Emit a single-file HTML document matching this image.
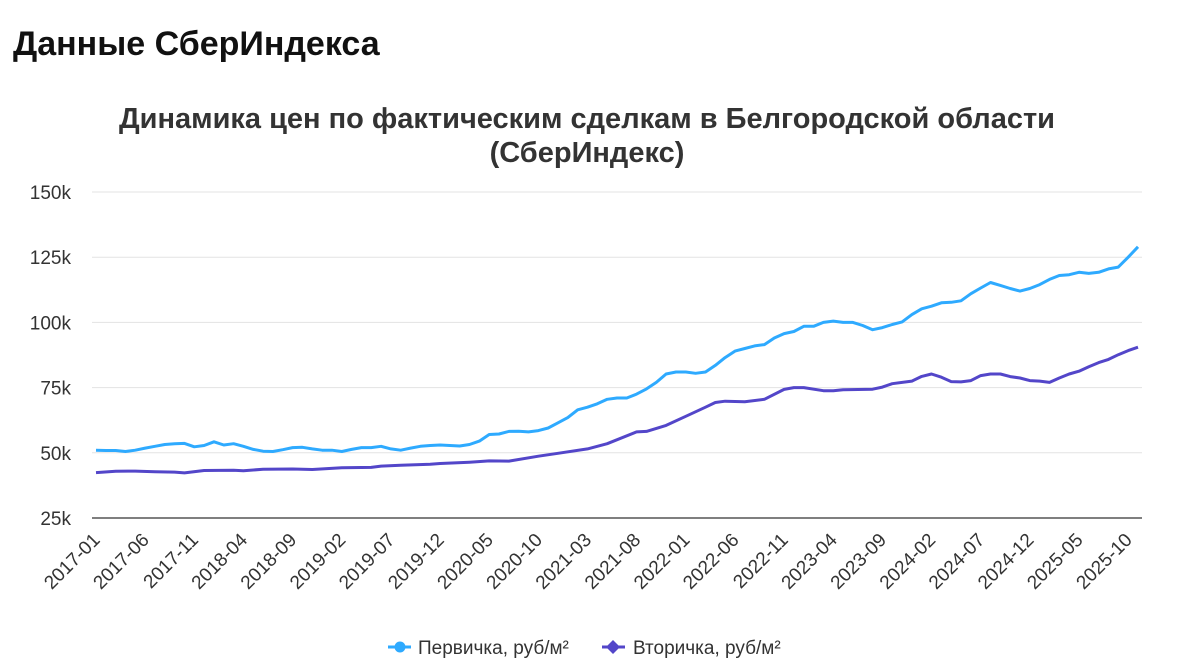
<!DOCTYPE html>
<html><head><meta charset="utf-8">
<style>
html,body{margin:0;padding:0;background:#fff;width:1178px;height:672px;overflow:hidden;font-family:"Liberation Sans",Arial,sans-serif;}
h1{position:absolute;left:13px;top:25px;margin:0;font-size:34px;font-weight:bold;color:#111;}
svg{position:absolute;left:0;top:0;}
</style></head><body>
<h1>Данные СберИндекса</h1>
<svg id="s" width="1178" height="672" xmlns="http://www.w3.org/2000/svg" font-family="Liberation Sans, Arial, sans-serif">
<text x="587" y="128" text-anchor="middle" font-size="29" font-weight="bold" fill="#333">Динамика цен по фактическим сделкам в Белгородской области</text>
<text x="587" y="162" text-anchor="middle" font-size="29" font-weight="bold" fill="#333">(СберИндекс)</text>
<g id="g"></g>
<g font-size="19" fill="#333">
<line x1="388" y1="647" x2="411" y2="647" stroke="#2eaaff" stroke-width="3"/><circle cx="400" cy="647" r="5.5" fill="#2eaaff"/>
<text x="418" y="654">Первичка, руб/м²</text>
<line x1="602" y1="647" x2="625" y2="647" stroke="#5346c9" stroke-width="3"/><path d="M613 640 L620 647 L613 654 L606 647Z" fill="#5346c9"/>
<text x="633" y="654">Вторичка, руб/м²</text>
</g>
</svg>
<script>
var p=[51,50.9,50.9,50.5,51,51.8,52.5,53.2,53.5,53.6,52.3,52.8,54.2,53,53.5,52.5,51.3,50.6,50.5,51.2,52,52.1,51.5,51,51,50.5,51.3,52,52,52.5,51.5,51,51.8,52.5,52.8,53,52.8,52.6,53.2,54.5,57,57.2,58.2,58.3,58,58.5,59.5,61.5,63.5,66.5,67.5,68.8,70.5,71,71,72.5,74.5,77,80.2,81,81,80.5,81,83.5,86.5,89,90,91,91.5,94,95.7,96.5,98.5,98.5,100,100.5,100,100,98.8,97.2,98,99.2,100.2,103,105.2,106.2,107.5,107.7,108.3,111,113.2,115.3,114.2,113,112,113,114.5,116.5,118,118.3,119.2,118.8,119.2,120.5,121.2,125,129];
var k=[[0,42.4],[2,42.9],[4,43],[6,42.7],[8,42.6],[9,42.3],[11,43.2],[14,43.3],[15,43.1],[17,43.7],[20,43.8],[22,43.6],[25,44.3],[28,44.4],[29,44.9],[31,45.2],[34,45.6],[35,45.9],[38,46.4],[40,46.9],[42,46.8],[45,48.7],[47,49.8],[50,51.5],[52,53.5],[55,58],[56,58.2],[58,60.5],[60,64],[62,67.5],[63,69.3],[64,69.8],[66,69.6],[68,70.5],[70,74.3],[71,75],[72,75],[74,73.8],[75,73.8],[76,74.2],[79,74.4],[80,75.2],[81,76.5],[83,77.5],[84,79.3],[85,80.2],[86,79],[87,77.3],[88,77.2],[89,77.7],[90,79.6],[91,80.2],[92,80.2],[93,79.2],[94,78.7],[95,77.7],[96,77.5],[97,77],[98,78.7],[99,80.2],[100,81.3],[101,83],[102,84.6],[103,85.8],[104,87.6],[105,89.2],[106,90.5]];
function X(i){return 96+i*9.83;}
function Y(v){return 518-(v-25)*65.2/25;}
var h='';
[150,125,100,75,50].forEach(function(v){var y=Y(v*1);h+='<line x1="92" x2="1142" y1="'+y+'" y2="'+y+'" stroke="#e3e3e3" stroke-width="1"/>';h+='<text x="71" y="'+(y+7)+'" text-anchor="end" font-size="19" fill="#333">'+v+'k</text>';});
h+='<line x1="92" x2="1142" y1="518" y2="518" stroke="#333" stroke-width="1.3"/><text x="71" y="525" text-anchor="end" font-size="19" fill="#333">25k</text>';
for(var i=0;i<=105;i+=5){var yr=2017+Math.floor(i/12),m=i%12+1;var x=X(i)+5;h+='<text transform="translate('+x+',541) rotate(-45)" text-anchor="end" font-size="19" fill="#333">'+yr+'-'+(m<10?'0':'')+m+'</text>';}
var s='';for(var i=0;i<p.length;i++)s+=(i?'L':'M')+X(i).toFixed(1)+' '+Y(p[i]).toFixed(1);
h+='<path d="'+s+'" fill="none" stroke="#2eaaff" stroke-width="3" stroke-linejoin="round"/>';
s='';for(var j=0;j<k.length;j++)s+=(j?'L':'M')+X(k[j][0]).toFixed(1)+' '+Y(k[j][1]).toFixed(1);
h+='<path d="'+s+'" fill="none" stroke="#5346c9" stroke-width="3" stroke-linejoin="round"/>';
document.getElementById('g').innerHTML=h;
</script>
</body></html>
